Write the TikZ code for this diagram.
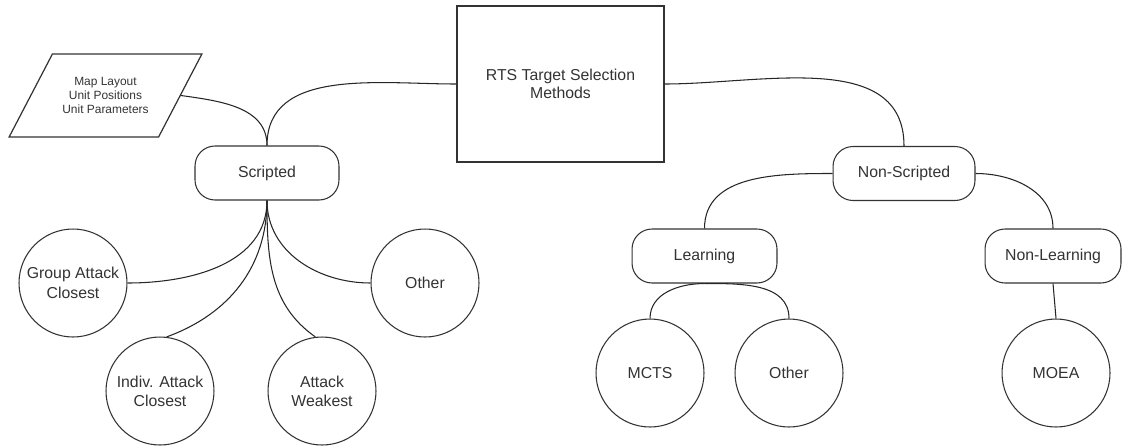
\documentclass[tikz,border=0pt]{standalone}
\usepackage{fontspec}
\setmainfont{Liberation Sans}
\usetikzlibrary{shapes.geometric}
\tikzset{
  conn/.style={draw=black!85, line width=0.6pt},
  rootbox/.style={draw=black!80, line width=0.7pt, rectangle, minimum width=4.14cm, minimum height=3.12cm, align=center, font=\fontsize{9}{10.5}\selectfont},
  inputbox/.style={draw=black!80, line width=0.7pt, trapezium, trapezium left angle=46, trapezium right angle=134, trapezium stretches=true, minimum width=3.86cm, minimum height=1.66cm, inner sep=0pt, align=center, font=\fontsize{6.8}{8}\selectfont},
  catbox/.style={draw=black!80, line width=0.6pt, rectangle, rounded corners=0.4cm, minimum height=1.08cm, font=\fontsize{9}{10.5}\selectfont},
  leaf/.style={draw=black!80, line width=0.6pt, circle, minimum size=2.16cm, inner sep=0pt, align=center, font=\fontsize{9}{11}\selectfont}
}
\begin{document}
\begin{tikzpicture}[x=0.02cm, y=-0.02cm, text=black!80]
\useasboundingbox (0,0) rectangle (1124,447);
\node[rootbox] (root) at (560.5,84) {RTS Target Selection\\Methods};
\node[inputbox] (inputs) at (105.5,95.5) {Map Layout\\Unit Positions\\Unit Parameters};
\node[catbox, minimum width=2.88cm] (scripted) at (267,173) {Scripted};
\node[catbox, minimum width=2.84cm] (nonscripted) at (904,173.5) {Non-Scripted};
\node[catbox, minimum width=2.9cm] (learning) at (704.5,256) {Learning};
\node[catbox, minimum width=2.72cm] (nonlearning) at (1053,256) {Non-Learning};
\node[leaf] (groupatk) at (73,283) {Group Attack\\Closest};
\node[leaf] (indivatk) at (160,391) {Indiv. Attack\\Closest};
\node[leaf] (weakest) at (322,391) {Attack\\Weakest};
\node[leaf] (otherscr) at (425,283) {Other};
\node[leaf] (mcts) at (650,373) {MCTS};
\node[leaf] (otherlrn) at (789,373) {Other};
\node[leaf] (moea) at (1056,373) {MOEA};
\draw[conn] (root.west) to[out=180, in=90] (scripted.north);
\draw[conn] (inputs.east) to[out=-8, in=90] (scripted.north);
\draw[conn] (root.east) to[out=0, in=90] (nonscripted.north);
\draw[conn] (scripted.south) to[out=-90, in=0] (groupatk.east);
\draw[conn] (scripted.south) to[out=-90, in=20] (indivatk.83);
\draw[conn] (scripted.south) to[out=-90, in=145] (weakest.97);
\draw[conn] (scripted.south) to[out=-90, in=180] (otherscr.west);
\draw[conn] (nonscripted.west) to[out=180, in=90] (learning.north);
\draw[conn] (nonscripted.east) to[out=0, in=90] (nonlearning.north);
\draw[conn] (learning.south) to[out=180, in=90] (mcts.north);
\draw[conn] (learning.south) to[out=0, in=90] (otherlrn.north);
\draw[conn] (nonlearning.south) -- (moea.north);
\end{tikzpicture}
\end{document}
